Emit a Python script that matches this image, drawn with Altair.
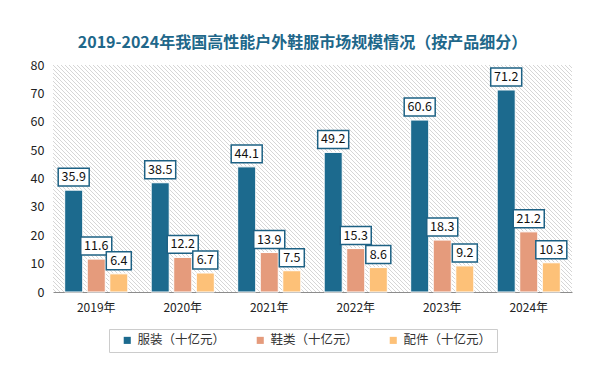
import altair as alt
import pandas as pd

years = ["2019年", "2020年", "2021年", "2022年", "2023年", "2024年"]
series = ["服装（十亿元）", "鞋类（十亿元）", "配件（十亿元）"]
clothing = [35.9, 38.5, 44.1, 49.2, 60.6, 71.2]
shoes = [11.6, 12.2, 13.9, 15.3, 18.3, 21.2]
accessories = [6.4, 6.7, 7.5, 8.6, 9.2, 10.3]
colors = ["#1c6a8e", "#e59b7c", "#fdc178"]

rows = []
for vals, s in zip([clothing, shoes, accessories], series):
    for yr, v in zip(years, vals):
        rows.append({"year": yr, "series": s, "value": v})
df = pd.DataFrame(rows)

FONT = "Noto Sans CJK SC"
W, H = 519, 227

# diagonal hatch background built as a striped linear gradient (period 4px)
P = 4.0
L = W + H
stops = []
i = 0
while i * P < L:
    o = lambda f: min(1.0, (i * P + f * P) / L)
    stops += [
        {"offset": o(0.0), "color": "#ffffff"},
        {"offset": o(0.62), "color": "#ffffff"},
        {"offset": o(0.63), "color": "#d6d6d6"},
        {"offset": o(0.87), "color": "#d6d6d6"},
        {"offset": o(0.88), "color": "#ffffff"},
    ]
    i += 1
k = (W + H) / (W * W + H * H)
hatch = {"gradient": "linear", "x1": 0, "y1": 1, "x2": W * k, "y2": 1 - H * k, "stops": stops}

bg = alt.Chart(alt.Data(values=[{"a": 1}])).mark_rect(fill=hatch).encode(
    x=alt.value(0), x2=alt.value("width"), y=alt.value(0), y2=alt.value("height")
)

base = alt.Chart(df).encode(
    x=alt.X(
        "year:N",
        sort=years,
        scale=alt.Scale(paddingInner=0.27, paddingOuter=0.135),
        axis=alt.Axis(
            title=None, labelAngle=0, ticks=False, domainColor="#8c8c8c",
            labelPadding=10, labelFontSize=12, labelColor="#222", labelFont=FONT,
        ),
    ),
    xOffset=alt.XOffset("series:N", sort=series, scale=alt.Scale(paddingInner=0.2)),
    y=alt.Y(
        "value:Q",
        scale=alt.Scale(domain=[0, 80]),
        axis=alt.Axis(
            title=None, values=list(range(0, 81, 10)), ticks=False, domain=False,
            grid=False, labelPadding=9, labelFontSize=12.5, labelColor="#222", labelFont=FONT,
        ),
    ),
)

bars = base.mark_bar(stroke="white", strokeWidth=1).encode(
    color=alt.Color(
        "series:N",
        sort=series,
        scale=alt.Scale(domain=series, range=colors),
        legend=alt.Legend(
            title="\u3000", titleOrient="left", titlePadding=7, titleFontSize=12,
            orient="none", legendX=56, legendY=264, direction="horizontal",
            symbolType="square", symbolSize=50, symbolStrokeWidth=0,
            labelFontSize=12.5, labelFont=FONT, labelColor="#333",
            columnPadding=28, padding=5, strokeColor="#cccccc",
            labelExpr="datum.index == 2 ? datum.label + '\u3000' : datum.label",
        ),
    )
)

P3 = "M-1,-0.72L1,-0.72L1,0.72L-1,0.72Z"
P4 = "M-1,-0.58L1,-0.58L1,0.58L-1,0.58Z"

lab = base.transform_calculate(label="format(datum.value, '.1f')")
boxes = lab.mark_point(
    filled=True, fill="white", stroke="#1d6184", strokeWidth=1.5, opacity=1, yOffset=-13
).encode(
    shape=alt.condition("length(datum.label) <= 3", alt.value(P3), alt.value(P4)),
    size=alt.condition("length(datum.label) <= 3", alt.value(625), alt.value(961)),
)
texts = lab.mark_text(yOffset=-13, fontSize=12.5, color="#111", font=FONT).encode(text="label:N")

chart = (
    alt.layer(bg, bars, boxes, texts)
    .properties(
        width=W,
        height=H,
        padding={"left": 45, "top": 57, "right": 23, "bottom": 74},
        autosize=alt.AutoSizeParams(type="none"),
        title=alt.Title(
            "2019-2024年我国高性能户外鞋服市场规模情况（按产品细分）",
            fontSize=16, fontWeight="bold", font=FONT, color="#20678a",
            anchor="middle", offset=8, dx=-10,
        ),
        background="white",
    )
    .configure_view(stroke=None)
)

chart.save("out.html", embed_options={"renderer": "svg", "actions": False})
